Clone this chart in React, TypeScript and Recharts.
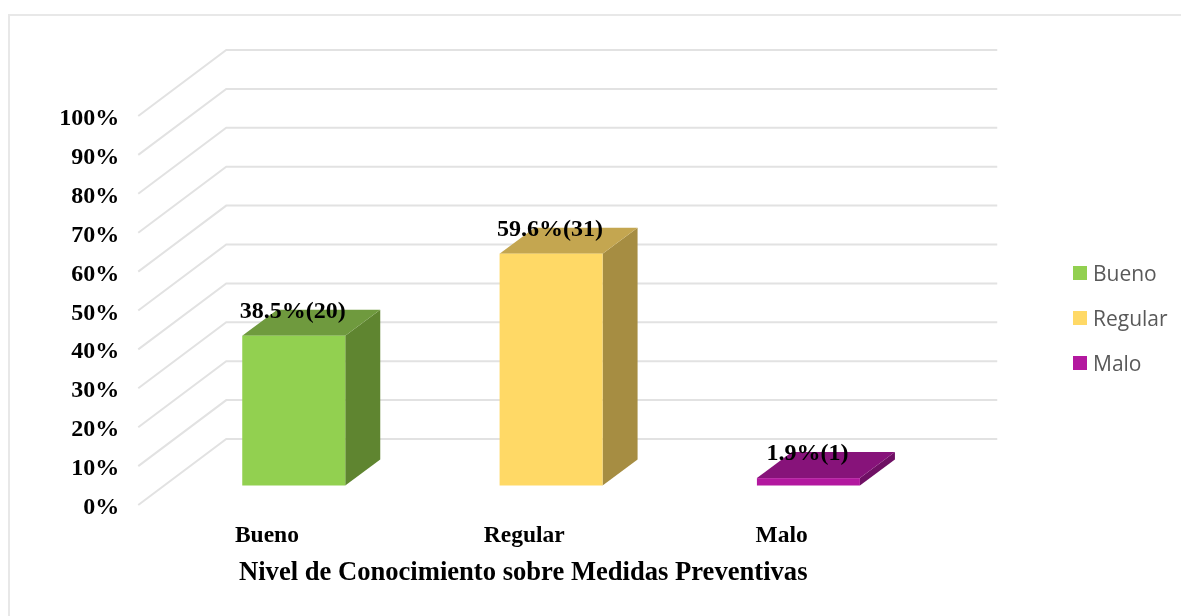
import { Bar, BarChart, CartesianGrid, LabelList, Legend, XAxis, YAxis } from "recharts";

const categories = ["Bueno", "Regular", "Malo"];
const percents = [38.5, 59.6, 1.9];
const counts = [20, 31, 1];
const yTicks = [0, 10, 20, 30, 40, 50, 60, 70, 80, 90, 100];
const xTitle = "Nivel de Conocimiento sobre Medidas Preventivas";

const frontColors = ["#92d050", "#ffd966", "#b3189f"];
const topColors = ["#6f9a3e", "#c4a650", "#87137a"];
const sideColors = ["#5f8530", "#a68d42", "#6f1064"];

const SERIF = '"Liberation Serif", serif';
const GRID = "#e2e2e2";

// bar depth
const DX = 35;
const DY = 26;

const data = categories.map((name, i) => ({
  name,
  value: percents[i],
  label: `${percents[i]}%(${counts[i]})`,
}));

function Bar3D({ x, y, width, height, index }: any) {
  return (
    <g>
      <polygon
        points={`${x + width},${y} ${x + width + DX},${y - DY} ${x + width + DX},${y + height - DY} ${x + width},${y + height}`}
        fill={sideColors[index]}
      />
      <polygon
        points={`${x},${y} ${x + DX},${y - DY} ${x + width + DX},${y - DY} ${x + width},${y}`}
        fill={topColors[index]}
      />
      <rect x={x} y={y} width={width} height={height} fill={frontColors[index]} />
    </g>
  );
}

// wall and floor line of the fake 3d box
function GridLine({ y1, x1, x2, index }: any) {
  const backY = y1 - 46.5;
  const backX = x1 + 61;
  return (
    <polyline
      key={index}
      points={`${x1 - 27},${y1 + 19.5} ${backX},${backY} ${x2 + 60},${backY}`}
      fill="none"
      stroke={GRID}
      strokeWidth={2}
    />
  );
}

function YTick({ x, y, payload }: any) {
  return (
    <text x={x - 38} y={y + 19.5 + 9} textAnchor="end" fontFamily={SERIF} fontWeight="bold" fontSize={24} fill="#000">
      {payload.value}%
    </text>
  );
}

function XTick({ x, y, payload }: any) {
  return (
    <text x={x - 27} y={y + 48} textAnchor="middle" fontFamily={SERIF} fontWeight="bold" fontSize={23.5} fill="#000">
      {payload.value}
    </text>
  );
}

function LegendBox() {
  return (
    <div>
      {categories.map((name, i) => (
        <div key={name} style={{ display: "flex", alignItems: "center", height: 45 }}>
          <span style={{ width: 14, height: 14, background: frontColors[i], marginRight: 6 }} />
          <span style={{ fontFamily: '"Open Sans", sans-serif', fontSize: 21, color: "#595959" }}>{name}</span>
        </div>
      ))}
    </div>
  );
}

export default function App() {
  return (
    <div style={{ position: "absolute", left: 0, top: 0, width: 1181, height: 616, background: "#fff", overflow: "hidden", filter: "blur(0.5px)" }}>
      <div style={{ position: "absolute", left: 8, top: 14, width: 1300, height: 800, border: "2px solid #e8e8e8" }} />
      <BarChart
        width={1181}
        height={616}
        data={data}
        margin={{ top: 96.5, right: 243.75, bottom: 30.5, left: 0 }}
      >
        <CartesianGrid vertical={false} horizontal={(props: any) => <GridLine {...props} />} />
        <XAxis
          dataKey="name"
          axisLine={false}
          tickLine={false}
          height={100}
          tick={<XTick />}
          label={{
            value: xTitle,
            position: "insideBottom",
            dx: -28,
            dy: -1,
            style: { fontFamily: SERIF, fontWeight: "bold", fontSize: 26.6, fill: "#000" },
          }}
        />
        <YAxis
          width={165.25}
          domain={[0, 100]}
          ticks={yTicks}
          interval={0}
          axisLine={false}
          tickLine={false}
          tick={<YTick />}
        />
        <Legend
          content={<LegendBox />}
          layout="vertical"
          wrapperStyle={{ position: "absolute", left: 1073, top: 250, width: 108, height: 0, bottom: "auto", right: "auto" }}
        />
        <Bar dataKey="value" barSize={103} shape={<Bar3D />} isAnimationActive={false}>
          <LabelList
            dataKey="label"
            position="top"
            offset={18}
            dx={-1}
            style={{ fontFamily: SERIF, fontWeight: "bold", fontSize: 24, fill: "#000" }}
          />
        </Bar>
      </BarChart>
    </div>
  );
}
